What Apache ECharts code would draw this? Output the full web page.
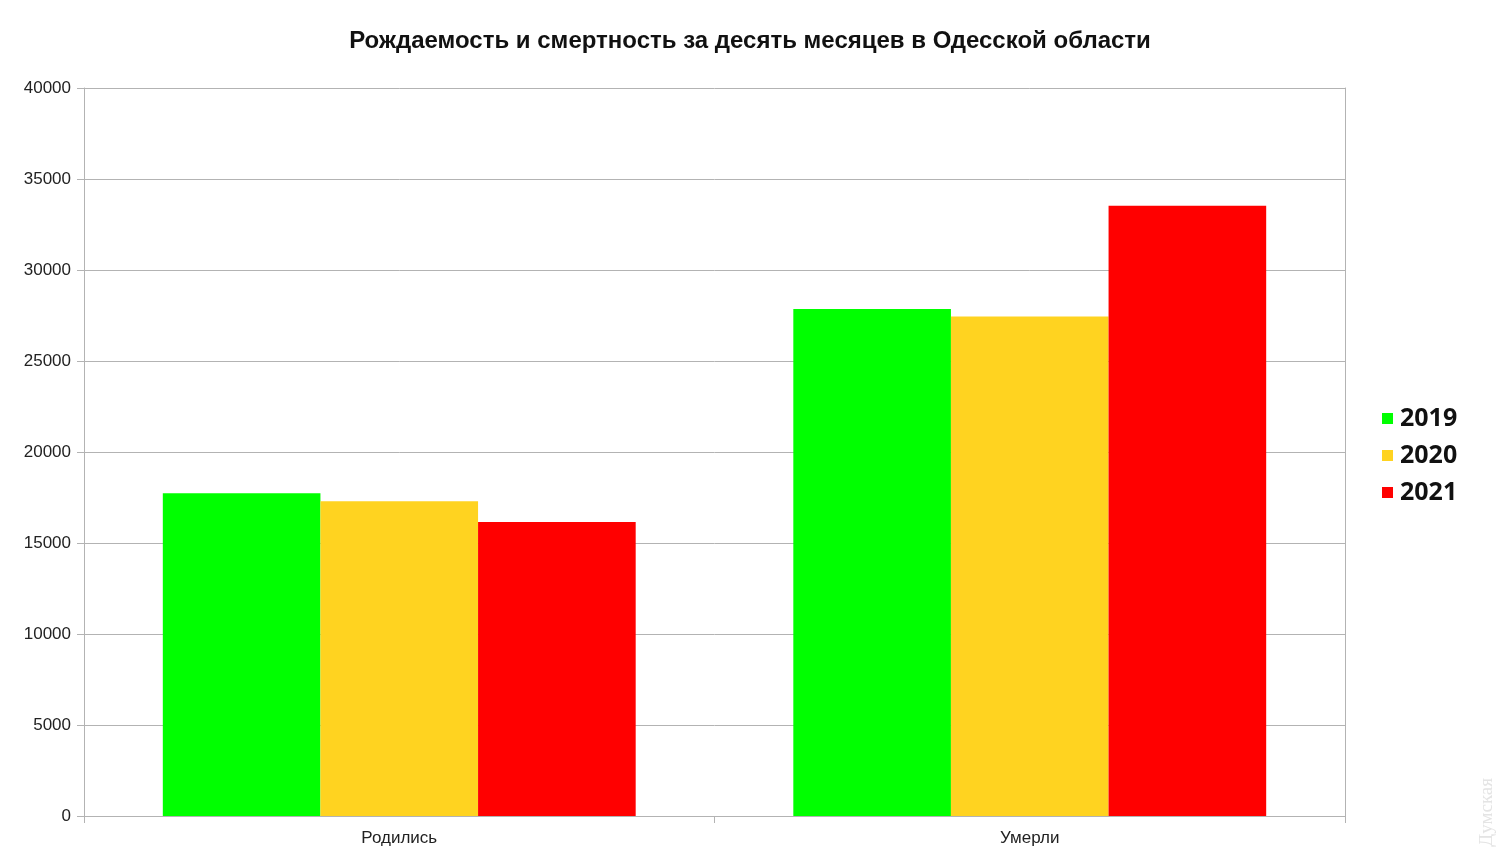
<!DOCTYPE html>
<html>
<head>
<meta charset="utf-8">
<script src="https://cdn.jsdelivr.net/npm/echarts@6/dist/echarts.min.js"></script>
<style>html,body{margin:0;padding:0;background:#fff;}#c{width:1500px;height:861px;}</style>
</head>
<body>
<div id="c"></div>
<script>
const categories = ['Родились', 'Умерли'];
const years = ['2019', '2020', '2021'];
const values2019 = [17730, 27860];
const values2020 = [17300, 27440];
const values2021 = [16150, 33530];
const colors = ['#00ff00', '#ffd320', '#ff0000'];
const yTicks = { min: 0, max: 40000, interval: 5000 };

const chart = echarts.init(document.getElementById('c'), null, { renderer: 'canvas' });
const seriesData = [values2019, values2020, values2021];
chart.setOption({
  backgroundColor: '#ffffff',
  animation: false,
  title: {
    text: 'Рождаемость и смертность за десять месяцев в Одесской области',
    left: 'center', top: 24,
    textStyle: { fontFamily: 'Liberation Sans', fontWeight: 'bold', fontSize: 24, color: '#111' }
  },
  legend: {
    orient: 'vertical', left: 1377, top: 401,
    itemWidth: 11, itemHeight: 11, itemGap: 12, icon: 'rect',
    textStyle: { fontFamily: 'Open Sans', fontWeight: 'bold', fontSize: 25, color: '#111', padding: [0, 0, 0, 2] },
    data: years
  },
  grid: { left: 84, right: 155, top: 88, bottom: 45, containLabel: false },
  xAxis: {
    type: 'category', data: categories, boundaryGap: true,
    axisLine: { lineStyle: { color: '#b3b3b3', width: 1 } },
    axisTick: { show: true, length: 7, lineStyle: { color: '#b3b3b3' } },
    axisLabel: { fontFamily: 'Liberation Sans', fontSize: 17, color: '#222', margin: 14 },
    splitLine: { show: false }
  },
  yAxis: [{
    type: 'value', min: yTicks.min, max: yTicks.max, interval: yTicks.interval,
    axisLine: { show: true, lineStyle: { color: '#b3b3b3' } },
    axisTick: { show: true, length: 7, lineStyle: { color: '#b3b3b3' } },
    axisLabel: { fontFamily: 'Liberation Sans', fontSize: 17, color: '#222', margin: 13, formatter: v => String(v) },
    splitLine: { lineStyle: { color: '#b3b3b3', width: 1 } }
  }, {
    type: 'value', position: 'right', min: yTicks.min, max: yTicks.max, interval: yTicks.interval,
    axisLine: { show: true, lineStyle: { color: '#b3b3b3' } },
    axisTick: { show: false }, axisLabel: { show: false }, splitLine: { show: false }
  }],
  series: years.map((y, i) => ({
    name: y, type: 'bar', data: seriesData[i],
    barGap: '0%', barCategoryGap: '25%',
    itemStyle: { color: colors[i] }
  })),
  graphic: [{
    type: 'text', left: 1478, top: 778, rotation: Math.PI / 2,
    style: { text: 'Думская', fontFamily: 'Liberation Serif', fontSize: 19, fill: '#e4e4e4' }
  }]
});
</script>
</body>
</html>
